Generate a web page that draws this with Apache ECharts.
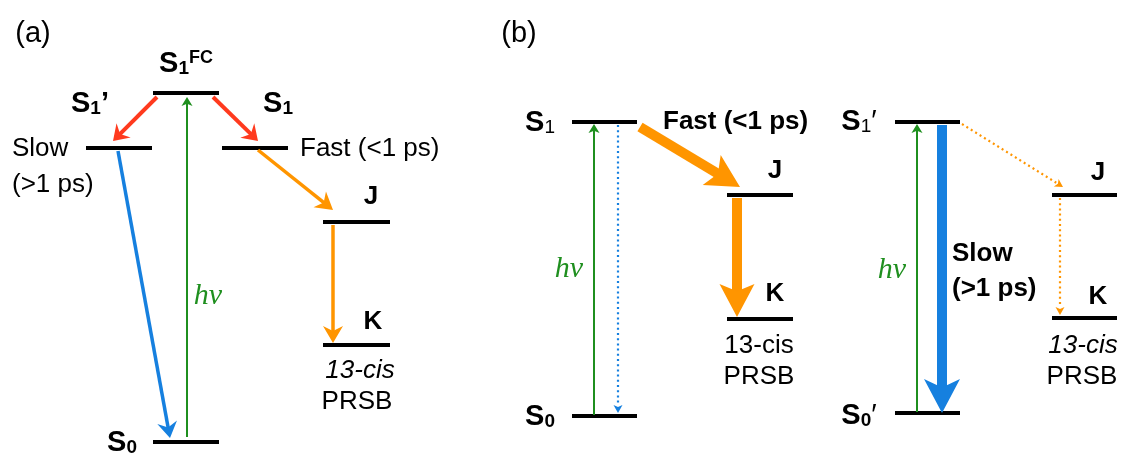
<!DOCTYPE html>
<html><head><meta charset="utf-8">
<script src="https://cdn.jsdelivr.net/npm/echarts@6/dist/echarts.min.js"></script>
<style>html,body{margin:0;padding:0;background:#fff}#c{width:1121px;height:455px}</style>
</head><body><div id="c"></div>
<script>
// ---- energy levels (figure frame: x across, y = height from top) ----
const levelNames = ['S1FC', "S1'(a)", 'S1(a)', 'J(a)', 'K(a)', 'S0(a)', 'S1(b)', 'S0(b)', 'J(b)', 'K(b)', "S1'(b)", "S0'(b)", "J(b')", "K(b')"];
const levelX0 = [153, 86, 222, 323, 323, 153, 572, 572, 727, 727, 895, 895, 1052, 1052];
const levelX1 = [219, 152, 288, 390, 390, 219, 637, 637, 793, 793, 960, 960, 1117, 1117];
const levelY  = [93, 148, 148, 222, 345, 442, 122, 416, 195, 319, 122, 413, 195, 318];

// ---- transitions (arrows) ----
const arrowX0 = [157, 213, 118, 187, 258, 333, 594, 618, 640, 737, 917, 942, 962, 1060];
const arrowY0 = [97, 97, 151, 437, 150, 225, 415, 125, 127, 198, 412, 125, 124, 198];
const arrowX1 = [113, 258, 170, 187, 333, 333, 594, 618, 740, 737, 917, 942, 1063, 1060];
const arrowY1 = [141, 141, 438, 97, 210, 343, 124, 413, 187, 317, 124, 413, 187, 315];
const arrowKind = ['red', 'red', 'blue', 'pump', 'orange', 'orange', 'pump', 'blueDot', 'orangeBold', 'orangeBold', 'pump', 'blueBold', 'orangeDot', 'orangeDot'];

// ---- text labels ----
const labelText = ['(a)', '(b)',
  '{m|S}{s|1}{t|FC}', '{m|S}{s|1}{pa|’}', '{m|S}{s|1}', 'Slow', '(>1 ps)', 'Fast (<1 ps)',
  'J', 'K', '13-cis', 'PRSB', '{m|S}{s|0}', 'hν',
  '{m|S}{n|1}', 'hν', '{m|S}{s|0}', 'Fast (<1 ps)', 'J', 'K', '13-cis', 'PRSB',
  '{m|S}{n|1}{pb|′}', '{m|S}{s|0}{pb|′}', 'hν', 'Slow', '(>1 ps)', 'J', 'K', '13-cis', 'PRSB'];
const labelX = [33, 519,
  186, 90, 278, 12, 12, 300,
  371, 373, 360, 357, 122, 208,
  540, 569, 540, 663, 775, 775, 759, 759,
  859, 859, 892, 952, 952, 1098, 1098, 1083, 1082];
const labelY = [34, 34,
  64, 104, 104, 148.5, 184.5, 148.5,
  197, 322, 371, 402, 443, 296,
  123, 269, 417, 122, 171, 293.5, 346, 377,
  122, 416, 270, 253.5, 288.5, 172.5, 297, 346, 377];
const labelKind = ['panel', 'panel',
  'sym', 'sym', 'sym', 'plainL', 'plainL', 'plainL',
  'bold', 'bold', 'italic', 'plain', 'sym', 'hv',
  'sym', 'hv', 'sym', 'boldL', 'bold', 'bold', 'plain', 'plain',
  'sym', 'sym', 'hv', 'boldL', 'boldL', 'bold', 'bold', 'italic', 'plain'];

// ---- styles ----
const SANS = "'Liberation Sans', Arial, Helvetica, sans-serif";
const SERIF = "'Liberation Serif', 'Times New Roman', serif";
const BLUE = '#1680DF', ORANGE = '#FF9500', RED = '#FF3A1E', GREEN = '#1F8F1F';
const arrowStyles = {
  red:        { color: RED,    width: 4,   headLen: 15, headW: 20, notch: 0.33 },
  blue:       { color: BLUE,   width: 3.5, headLen: 16, headW: 20, notch: 0.33 },
  pump:       { color: GREEN,  width: 2,   headLen: 9,  headW: 11, notch: 0.25 },
  orange:     { color: ORANGE, width: 3.5, headLen: 17, headW: 20, notch: 0.3 },
  blueDot:    { color: BLUE,   width: 2.2, headLen: 8,  headW: 9,  notch: 0.25, dash: [2, 3.2] },
  orangeBold: { color: ORANGE, width: 10,  headLen: 33, headW: 35, notch: 0.22 },
  blueBold:   { color: BLUE,   width: 10,  headLen: 34, headW: 36, notch: 0.25 },
  orangeDot:  { color: ORANGE, width: 2.2, headLen: 8,  headW: 9,  notch: 0.25, dash: [2, 3.2] }
};
const symRich = {
  m:  { fontFamily: SANS, fontWeight: 'bold', fontSize: 29, lineHeight: 29, fill: '#000' },
  s:  { fontFamily: SANS, fontWeight: 'bold', fontSize: 19, lineHeight: 19, verticalAlign: 'bottom', fill: '#000' },
  n:  { fontFamily: SANS, fontWeight: 'normal', fontSize: 19, lineHeight: 19, verticalAlign: 'bottom', fill: '#000' },
  t:  { fontFamily: SANS, fontWeight: 'bold', fontSize: 18, lineHeight: 18, verticalAlign: 'top', fill: '#000' },
  pa: { fontFamily: SANS, fontWeight: 'bold', fontSize: 29, lineHeight: 29, fill: '#000' },
  pb: { fontFamily: SANS, fontWeight: 'normal', fontSize: 29, lineHeight: 29, fill: '#000' }
};
const labelStyles = {
  panel:  { font: 'normal 29px ' + SANS, align: 'center', fill: '#000' },
  sym:    { font: 'bold 29px ' + SANS, align: 'center', fill: '#000', rich: symRich },
  plain:  { font: 'normal 26px ' + SANS, align: 'center', fill: '#000' },
  plainL: { font: 'normal 26px ' + SANS, align: 'left', fill: '#000' },
  bold:   { font: 'bold 26px ' + SANS, align: 'center', fill: '#000' },
  boldL:  { font: 'bold 26px ' + SANS, align: 'left', fill: '#000' },
  italic: { font: 'italic 26px ' + SANS, align: 'center', fill: '#000' },
  hv:     { font: 'italic 30px ' + SERIF, align: 'center', fill: GREEN }
};

const chart = echarts.init(document.getElementById('c'), null, { renderer: 'canvas' });

function renderLevel(params, api) {
  const a = api.coord([api.value(0), api.value(2)]);
  const b = api.coord([api.value(1), api.value(2)]);
  return { type: 'line', shape: { x1: a[0], y1: a[1], x2: b[0], y2: b[1] },
    style: { stroke: '#000', lineWidth: 4, lineCap: 'butt' } };
}

function renderArrow(params, api) {
  const st = arrowStyles[arrowKind[params.dataIndex]];
  const p0 = api.coord([api.value(0), api.value(1)]);
  const p1 = api.coord([api.value(2), api.value(3)]);
  const dx = p1[0] - p0[0], dy = p1[1] - p0[1];
  const len = Math.hypot(dx, dy);
  const ux = dx / len, uy = dy / len, nx = -uy, ny = ux;
  const L = st.headLen, W = st.headW / 2;
  const bx = p1[0] - ux * L, by = p1[1] - uy * L;
  const kx = bx + ux * L * st.notch, ky = by + uy * L * st.notch;
  const endX = st.dash ? bx : kx + ux * 1, endY = st.dash ? by : ky + uy * 1;
  return { type: 'group', children: [
    { type: 'line', shape: { x1: p0[0], y1: p0[1], x2: endX, y2: endY },
      style: { stroke: st.color, lineWidth: st.width, lineDash: st.dash || null, lineCap: 'butt' } },
    { type: 'polygon', shape: { points: [[p1[0], p1[1]], [bx + nx * W, by + ny * W], [kx, ky], [bx - nx * W, by - ny * W]] },
      style: { fill: st.color } }
  ] };
}

function renderLabel(params, api) {
  const i = params.dataIndex;
  const ls = labelStyles[labelKind[i]];
  const p = api.coord([api.value(0), api.value(1)]);
  const style = { text: labelText[i], x: 0, y: 0, font: ls.font, fill: ls.fill, align: ls.align, verticalAlign: 'middle' };
  if (ls.rich) style.rich = ls.rich;
  return { type: 'text', x: p[0], y: p[1], style: style };
}

const option = {
  animation: false,
  backgroundColor: '#fff',
  grid: { left: 0, right: 0, top: 0, bottom: 0 },
  xAxis: { type: 'value', min: 0, max: 1121, show: false },
  yAxis: { type: 'value', min: 0, max: 455, inverse: true, show: false },
  series: [
    { type: 'custom', name: 'levels', renderItem: renderLevel,
      data: levelNames.map((n, i) => [levelX0[i], levelX1[i], levelY[i]]) },
    { type: 'custom', name: 'transitions', renderItem: renderArrow,
      data: arrowKind.map((k, i) => [arrowX0[i], arrowY0[i], arrowX1[i], arrowY1[i]]) },
    { type: 'custom', name: 'labels', renderItem: renderLabel,
      data: labelText.map((t, i) => [labelX[i], labelY[i]]) }
  ]
};
chart.setOption(option);
</script>
</body></html>
